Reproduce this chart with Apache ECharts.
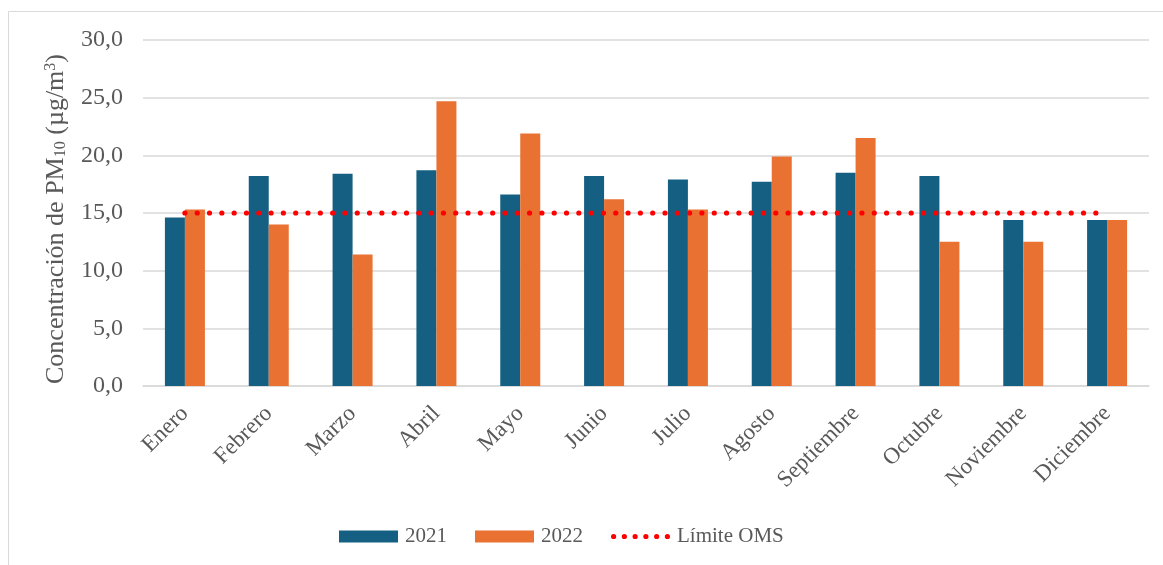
<!DOCTYPE html>
<html>
<head>
<meta charset="utf-8">
<script src="https://cdn.jsdelivr.net/npm/echarts@6/dist/echarts.min.js"></script>
<style>
  html, body { margin: 0; padding: 0; background: #fff; }
  #chart { width: 1163px; height: 565px; }
</style>
</head>
<body>
<div id="chart"></div>
<script>
// Monthly PM10 concentration (µg/m³), 2021 vs 2022, with the WHO annual limit
const months = ['Enero', 'Febrero', 'Marzo', 'Abril', 'Mayo', 'Junio', 'Julio', 'Agosto', 'Septiembre', 'Octubre', 'Noviembre', 'Diciembre'];
const pm2021 = [14.6, 18.2, 18.4, 18.7, 16.6, 18.2, 17.9, 17.7, 18.5, 18.2, 14.4, 14.4];
const pm2022 = [15.3, 14.0, 11.4, 24.7, 21.9, 16.2, 15.3, 19.9, 21.5, 12.5, 12.5, 14.4];
const limiteOMS = [15, 15, 15, 15, 15, 15, 15, 15, 15, 15, 15, 15];
const yTicks = { min: 0, max: 30, interval: 5 };

const FONT = '"Liberation Serif", "Times New Roman", serif';
const GREY = '#595959';

// Legend glyph for the dotted limit line: a row of six dots inside a 59x12 box
function dottedIcon() {
  let d = 'M0,0 M59,12';
  const r = 2.6;
  for (let k = 0; k < 6; k++) {
    const cx = 2.6 + k * 10.76;
    d += ` M${(cx - r).toFixed(2)},6 a${r},${r} 0 1,0 ${2 * r},0 a${r},${r} 0 1,0 ${-2 * r},0 Z`;
  }
  return 'path://' + d;
}

const chart = echarts.init(document.getElementById('chart'), null, { renderer: 'canvas' });

chart.setOption({
  backgroundColor: '#fff',
  animation: false,
  textStyle: { fontFamily: FONT, color: GREY },
  graphic: [{
    type: 'rect',
    shape: { x: 8.5, y: 11.5, width: 1200, height: 600 },
    style: { fill: 'none', stroke: '#d9d9d9', lineWidth: 1 },
    silent: true
  }],
  grid: { left: 143, right: 14, top: 40, bottom: 179, containLabel: false },
  legend: {
    left: 334,
    top: 521,
    itemWidth: 59,
    itemHeight: 12,
    itemGap: 28,
    textStyle: { fontFamily: FONT, fontSize: 21, color: GREY, padding: [2, 0, 0, 2] },
    data: [
      { name: '2021', icon: 'rect' },
      { name: '2022', icon: 'rect' },
      { name: 'Límite OMS', icon: dottedIcon(), itemStyle: { color: '#FF0000' } }
    ]
  },
  xAxis: {
    type: 'category',
    data: months,
    axisLine: { lineStyle: { color: '#d9d9d9', width: 1.5 } },
    axisTick: { show: false },
    axisLabel: {
      rotate: 45,
      interval: 0,
      margin: 24,
      fontFamily: FONT,
      fontSize: 23,
      color: GREY
    }
  },
  yAxis: {
    type: 'value',
    min: yTicks.min,
    max: yTicks.max,
    interval: yTicks.interval,
    axisLine: { show: false },
    axisTick: { show: false },
    splitLine: { lineStyle: { color: '#d9d9d9', width: 1.5 } },
    axisLabel: {
      margin: 20,
      fontFamily: FONT,
      fontSize: 24,
      color: GREY,
      formatter: v => v.toFixed(1).replace('.', ',')
    },
    name: 'Concentración de PM{sub|10} (µg/m{sup|3})',
    nameLocation: 'middle',
    nameGap: 72,
    nameRotate: 90,
    nameTextStyle: {
      fontFamily: FONT,
      fontSize: 26,
      color: GREY,
      padding: [0, 12, 0, 0],
      rich: {
        sub: { fontFamily: FONT, fontSize: 16, color: GREY, verticalAlign: 'bottom', lineHeight: 18, padding: [11, 0, 0, 0] },
        sup: { fontFamily: FONT, fontSize: 16, color: GREY, verticalAlign: 'top', lineHeight: 18, padding: [0, 0, 11, 0] }
      }
    }
  },
  series: [
    {
      name: '2021',
      type: 'bar',
      data: pm2021,
      barWidth: 20,
      barGap: '0%',
      itemStyle: { color: '#156082' }
    },
    {
      name: '2022',
      type: 'bar',
      data: pm2022,
      barWidth: 20,
      itemStyle: { color: '#E97132' }
    },
    {
      name: 'Límite OMS',
      type: 'line',
      data: limiteOMS,
      symbol: 'none',
      z: 5,
      itemStyle: { color: '#FF0000' },
      lineStyle: { color: '#FF0000', width: 5.2, type: [0.01, 12.3], cap: 'round' }
    }
  ]
});
</script>
</body>
</html>
